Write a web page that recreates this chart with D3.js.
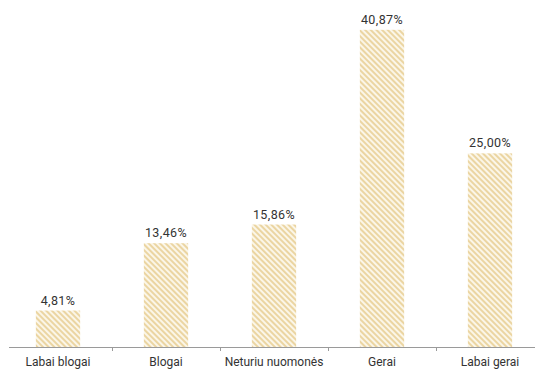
<!DOCTYPE html>
<html>
<head>
<meta charset="utf-8">
<script src="https://cdn.jsdelivr.net/npm/d3@7"></script>
<style>
  body { margin: 0; background: #fff; }
  text { font-family: "Roboto", "Noto Sans", sans-serif; fill: #333; }
</style>
</head>
<body>
<svg id="chart" width="535" height="374"></svg>
<script>
const categories = ["Labai blogai", "Blogai", "Neturiu nuomonės", "Gerai", "Labai gerai"];
const values = [4.81, 13.46, 15.86, 40.87, 25.00];
const valueLabels = ["4,81%", "13,46%", "15,86%", "40,87%", "25,00%"];

const svg = d3.select("#chart");
const baseline = 348;

const x = d3.scaleBand()
  .domain(categories)
  .range([4, 544])
  .paddingInner(0.59)
  .paddingOuter(0.295);

const y = d3.scaleLinear()
  .domain([0, 44.7])
  .range([baseline, 0]);

// diagonal hatch
const defs = svg.append("defs");
const pat = defs.append("pattern")
  .attr("id", "hatch")
  .attr("patternUnits", "userSpaceOnUse")
  .attr("width", 4)
  .attr("height", 4)
  .attr("patternTransform", "rotate(-45)");
pat.append("rect")
  .attr("width", 4).attr("height", 4)
  .attr("fill", "#fbf6e8");
pat.append("rect")
  .attr("width", 2).attr("height", 4)
  .attr("fill", "#ebd5a2");

svg.selectAll("rect.bar")
  .data(values)
  .enter().append("rect")
  .attr("class", "bar")
  .attr("x", (d, i) => x(categories[i]))
  .attr("y", d => y(d))
  .attr("width", x.bandwidth())
  .attr("height", d => baseline - y(d))
  .attr("fill", "url(#hatch)");

svg.selectAll("text.val")
  .data(values)
  .enter().append("text")
  .attr("class", "val")
  .attr("x", (d, i) => x(categories[i]) + x.bandwidth() / 2)
  .attr("y", d => y(d) - 6)
  .attr("text-anchor", "middle")
  .style("font-size", "12.5px")
  .style("letter-spacing", "0.4px")
  .text((d, i) => valueLabels[i]);

// axis line and ticks between categories
svg.append("line")
  .attr("x1", 9).attr("x2", 535)
  .attr("y1", baseline - 0.5).attr("y2", baseline - 0.5)
  .attr("stroke", "#9a9a9a");

const step = x.step();
svg.selectAll("line.tick")
  .data(categories.slice(1))
  .enter().append("line")
  .attr("class", "tick")
  .attr("x1", d => x(d) - x.paddingInner() * step / 2 + 0.5)
  .attr("x2", d => x(d) - x.paddingInner() * step / 2 + 0.5)
  .attr("y1", baseline).attr("y2", baseline + 3)
  .attr("stroke", "#9a9a9a");

svg.selectAll("text.cat")
  .data(categories)
  .enter().append("text")
  .attr("class", "cat")
  .attr("x", d => x(d) + x.bandwidth() / 2)
  .attr("y", 366)
  .attr("text-anchor", "middle")
  .style("font-size", "12px")
  .text(d => d);
</script>
</body>
</html>
